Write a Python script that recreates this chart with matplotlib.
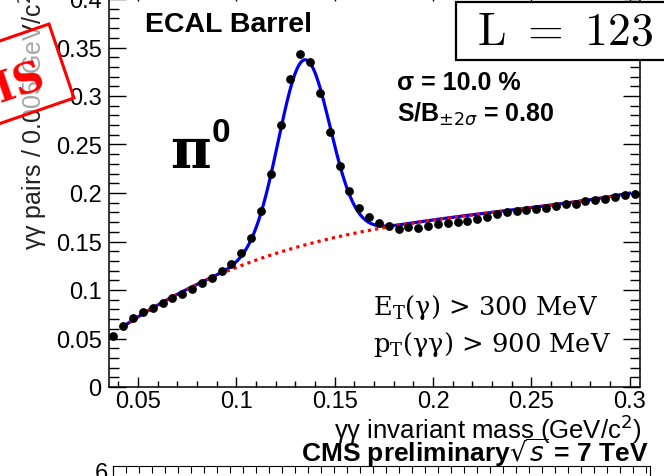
import matplotlib
matplotlib.use("Agg")
import matplotlib.pyplot as plt
import numpy as np
from matplotlib.patches import Polygon, Rectangle
from matplotlib.ticker import MultipleLocator, FuncFormatter

plt.rcParams["font.family"] = ["Liberation Sans", "DejaVu Sans"]

# diphoton mass bins (GeV/c^2) and counts
mass = np.arange(54) * 0.005 + 0.0375
pairs = [0.0526, 0.0629, 0.0711, 0.0773, 0.0814, 0.0866, 0.0918, 0.0959,
         0.101, 0.107, 0.112, 0.120, 0.127, 0.138, 0.154, 0.181, 0.220,
         0.270, 0.318, 0.343, 0.335, 0.303, 0.263, 0.228, 0.202, 0.185,
         0.175, 0.169, 0.166, 0.163, 0.165, 0.164, 0.166, 0.168, 0.169,
         0.170, 0.171, 0.173, 0.175, 0.178, 0.180, 0.181, 0.182, 0.1835,
         0.185, 0.187, 0.189, 0.189, 0.192, 0.193, 0.194, 0.196, 0.198,
         0.199]

# background shape
bg_x = [0.0425, 0.0675, 0.0925, 0.1036, 0.1477, 0.1625, 0.1775, 0.24, 0.30]
bg_y = [0.063, 0.092, 0.118, 0.125, 0.154, 0.159, 0.1656, 0.182, 0.200]

# gaussian peak parameters of the blue fit
peak_amp = 0.191
peak_mu = 0.1345
peak_sigma = 0.0131
fit_range = (0.0425, 0.300)

W, H = 664, 477


def fx(px):
    return px / W


def fy(py):
    return 1 - py / H


fig = plt.figure(figsize=(6.64, 4.77), dpi=100)

# main panel
ax = fig.add_axes([fx(108.5), fy(388), 531 / W, 0.408 * 970 / H])
ax.set_xlim(0.035, 0.305)
ax.set_ylim(0, 0.408)

coef = np.polyfit(bg_x, bg_y, 3)
xf = np.linspace(fit_range[0], fit_range[1], 400)
bg = np.polyval(coef, xf)
total = bg + peak_amp * np.exp(-0.5 * ((xf - peak_mu) / peak_sigma) ** 2)

ax.plot(xf, total, color="#0000ee", lw=2.3, zorder=2)
ax.plot(xf, bg, color="#ff0000", lw=2.3, ls=(0, (1, 1.3)), zorder=3)
ax.plot(mass, pairs, "o", color="black", ms=5.3, zorder=4)

ax.xaxis.set_major_locator(MultipleLocator(0.05))
ax.xaxis.set_minor_locator(MultipleLocator(0.01))
ax.yaxis.set_major_locator(MultipleLocator(0.05))
ax.yaxis.set_minor_locator(MultipleLocator(0.01))
fmt = FuncFormatter(lambda v, p: "%g" % round(v, 3))
ax.xaxis.set_major_formatter(fmt)
ax.yaxis.set_major_formatter(fmt)
ax.tick_params(which="both", direction="in", top=True, right=True,
               labelsize=17, width=1)
ax.tick_params(axis="y", which="major", length=12, pad=5)
ax.tick_params(axis="y", which="minor", length=7)
ax.tick_params(axis="x", which="major", length=7, pad=2.5)
ax.tick_params(axis="x", which="minor", length=4)
for s in ax.spines.values():
    s.set_linewidth(1.1)

# labels
fig.text(fx(642), fy(429), "γγ invariant mass (GeV/c$^{2}$)", ha="right",
         va="center", fontsize=18.5)
fig.text(fx(649), fy(453), r"CMS preliminary$\sqrt{s}$ = 7 TeV", ha="right",
         va="center", fontsize=19, weight="bold", math_fontfamily="dejavusans")
fig.text(fx(34), fy(250), "γγ pairs / 0.005 GeV/c$^{2}$", rotation=90,
         ha="center", va="bottom", fontsize=18, color="#222222")

# annotations inside the frame
fig.text(fx(145), fy(25), "ECAL Barrel", ha="left", va="center",
         fontsize=20.5, weight="bold")
fig.text(fx(397), fy(83), "σ = 10.0 %", ha="left", va="center",
         fontsize=18, weight="bold")
fig.text(fx(397), fy(114), r"S/B$_{\pm2\sigma}$ = 0.80", ha="left",
         va="center", fontsize=18, weight="bold", math_fontfamily="dejavusans")
fig.text(fx(170), fy(153), "π", ha="left", va="center", fontsize=40,
         weight="bold", family="DejaVu Serif")
fig.text(fx(212), fy(134), "0", ha="left", va="center", fontsize=24,
         weight="bold")
fig.text(fx(373), fy(308), r"E$_{\rm T}$(γ) > 300 MeV", ha="left",
         va="center", fontsize=18.5, family="DejaVu Serif",
         math_fontfamily="dejavuserif")
fig.text(fx(373), fy(345), r"p$_{\rm T}$(γγ) > 900 MeV", ha="left",
         va="center", fontsize=18.5, family="DejaVu Serif",
         math_fontfamily="dejavuserif")

# luminosity box
fig.patches.append(Rectangle((fx(456), fy(61)), fx(680) - fx(456),
                             fy(3) - fy(61), transform=fig.transFigure,
                             facecolor="white", edgecolor="black", lw=1.6,
                             zorder=5))
fig.text(fx(477), fy(33), r"$\mathrm{L}\ =\ 123$", ha="left", va="center",
         fontsize=33, math_fontfamily="cm", zorder=6)

# red stamp (mostly cut off at the left edge)
ang = np.deg2rad(19)
d = np.array([-np.cos(ang), np.sin(ang)]) * 220
br = np.array([74, 99])
tr = np.array([49, 25])
corners = [tr, br, br + d, tr + d]
fig.patches.append(Polygon([(fx(c[0]), fy(c[1])) for c in corners],
                           closed=True, transform=fig.transFigure,
                           facecolor=(1, 1, 1, 0.6), edgecolor="#ff0000",
                           lw=2.2, zorder=5))
fig.text(fx(44), fy(76), "CMS", ha="right", va="center", rotation=19,
         rotation_mode="anchor", fontsize=30, weight="bold",
         family="DejaVu Serif", color="#ff0000", zorder=6)

# top of the next panel peeking in at the bottom
ax2 = fig.add_axes([fx(113), fy(520), (650 - 113) / W, 53 / H])
ax2.set_xlim(0, 41.3)
ax2.set_ylim(0, 1)
ax2.xaxis.set_major_locator(MultipleLocator(1))
ax2.tick_params(axis="x", which="both", direction="in", top=True,
                bottom=False, labelbottom=False, length=5)
ax2.set_yticks([])
fig.text(fx(101), fy(474), "6", ha="center", va="center", fontsize=17)
fig.text(fx(49), fy(486), ")", ha="center", va="center", rotation=90,
         fontsize=22)

fig.savefig("out.png", dpi=100)
